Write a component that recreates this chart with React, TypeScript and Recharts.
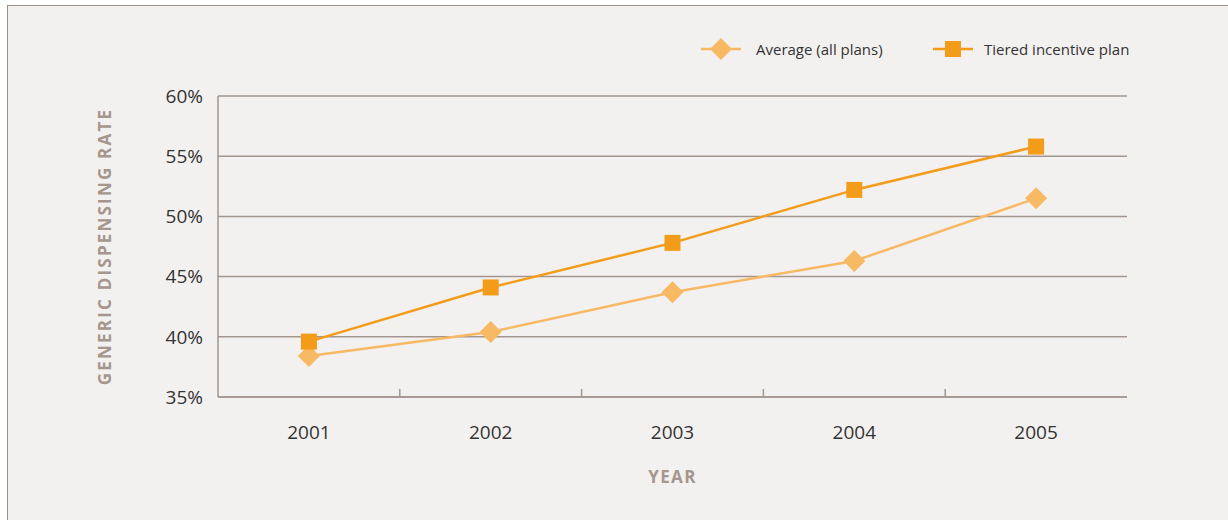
import { LineChart, Line, XAxis, YAxis, CartesianGrid, Legend, Label } from "recharts"

const years = ["2001", "2002", "2003", "2004", "2005"]
const averageRate = [38.4, 40.4, 43.7, 46.3, 51.5]
const tieredRate = [39.6, 44.1, 47.8, 52.2, 55.8]
const yTicks = [35, 40, 45, 50, 55, 60]
const yearPositions = [1, 2, 3, 4, 5]
const bandEdges = [1.5, 2.5, 3.5, 4.5]

const data = years.map((year, i) => ({
  pos: i + 1,
  year,
  average: averageRate[i],
  tiered: tieredRate[i],
}))

const AVG = "#f8b964"
const TIER = "#f39c1a"
const GRID = "#a2968f"
const TITLE = "#a5968e"
const FONT = "'Open Sans', sans-serif"

function Diamond(props: any) {
  const { cx, cy } = props
  if (cx == null || cy == null) return null
  const r = 11
  return (
    <polygon
      points={`${cx},${cy - r} ${cx + r},${cy} ${cx},${cy + r} ${cx - r},${cy}`}
      fill={AVG}
    />
  )
}

function Square(props: any) {
  const { cx, cy } = props
  if (cx == null || cy == null) return null
  return <rect x={cx - 8} y={cy - 8} width={16} height={16} fill={TIER} />
}

function ChartLegend() {
  return (
    <div style={{ display: "flex", alignItems: "center", fontFamily: FONT, fontSize: 15, color: "#333" }}>
      <svg width={40} height={24}>
        <line x1={0} x2={40} y1={12} y2={12} stroke={AVG} strokeWidth={2.5} />
        <Diamond cx={20} cy={12} />
      </svg>
      <span style={{ marginLeft: 15, width: 177 }}>Average (all plans)</span>
      <svg width={40} height={24}>
        <line x1={0} x2={40} y1={12} y2={12} stroke={TIER} strokeWidth={2.5} />
        <Square cx={20} cy={12} />
      </svg>
      <span style={{ marginLeft: 11 }}>Tiered incentive plan</span>
    </div>
  )
}

export default function App() {
  return (
    <div style={{ position: "absolute", left: 0, top: 0, width: 1228, height: 520, background: "#ffffff" }}>
      <div
        style={{
          position: "absolute",
          left: 7,
          top: 5,
          right: 0,
          bottom: 0,
          background: "#f3f1ef",
          borderTop: "1.5px solid #a0928b",
          borderLeft: "1.5px solid #a0928b",
        }}
      />
      <div style={{ position: "absolute", left: 0, top: 0 }}>
        <LineChart
          width={1228}
          height={520}
          data={data}
          margin={{ top: 96, right: 101, bottom: 35, left: 138 }}
          style={{ fontFamily: FONT }}
        >
          <CartesianGrid horizontal vertical={false} stroke={GRID} strokeWidth={1.5} />
          <XAxis
            xAxisId="edges"
            dataKey="pos"
            type="number"
            domain={[0.5, 5.5]}
            ticks={bandEdges}
            tickFormatter={() => ""}
            mirror
            height={1}
            tickSize={8}
            tickLine={{ stroke: GRID, strokeWidth: 1.5 }}
            axisLine={{ stroke: GRID, strokeWidth: 1.5 }}
          />
          <XAxis
            xAxisId="years"
            dataKey="pos"
            type="number"
            domain={[0.5, 5.5]}
            ticks={yearPositions}
            tickFormatter={(v: number) => years[v - 1]}
            axisLine={false}
            tickLine={false}
            tickMargin={23}
            height={88}
            tick={{ fill: "#333", fontSize: 19 }}
          >
            <Label
              value="YEAR"
              position="insideBottom"
              offset={2}
              style={{ fill: TITLE, fontSize: 17, fontWeight: 700, letterSpacing: 1.4 }}
            />
          </XAxis>
          <YAxis
            domain={[35, 60]}
            ticks={yTicks}
            tickFormatter={(v: number) => `${v}%`}
            width={80}
            tickSize={0}
            tickMargin={15}
            axisLine={{ stroke: GRID, strokeWidth: 1.5 }}
            tick={{ fill: "#333", fontSize: 19 }}
          >
            <Label
              value="GENERIC DISPENSING RATE"
              angle={-90}
              position="left"
              offset={33}
              style={{ fill: TITLE, fontSize: 17, fontWeight: 700, letterSpacing: 2.2, textAnchor: "middle" }}
            />
          </YAxis>
          <Legend
            verticalAlign="top"
            align="left"
            content={() => <ChartLegend />}
            wrapperStyle={{ top: 37, left: 701, width: 480, height: 0, overflow: "visible" }}
          />
          <Line
            xAxisId="edges"
            dataKey="average"
            name="Average (all plans)"
            stroke={AVG}
            strokeWidth={2.5}
            dot={<Diamond />}
            activeDot={false}
            isAnimationActive={false}
          />
          <Line
            xAxisId="edges"
            dataKey="tiered"
            name="Tiered incentive plan"
            stroke={TIER}
            strokeWidth={2.5}
            dot={<Square />}
            activeDot={false}
            isAnimationActive={false}
          />
        </LineChart>
      </div>
    </div>
  )
}
